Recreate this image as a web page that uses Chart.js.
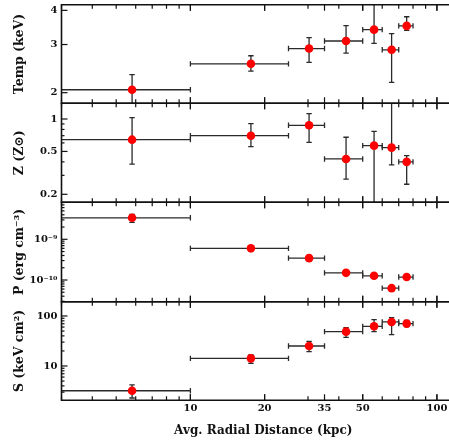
<!DOCTYPE html>
<html>
<head>
<meta charset="utf-8">
<script src="https://cdn.jsdelivr.net/npm/chart.js@4.4.1/dist/chart.umd.min.js"></script>
<style>
  html, body { margin: 0; padding: 0; background: #fff; width: 449px; height: 443px; overflow: hidden; }
  canvas { position: absolute; left: 0; top: 0; }
</style>
</head>
<body>
<canvas id="pT" width="470" height="443"></canvas>
<canvas id="pZ" width="470" height="443"></canvas>
<canvas id="pP" width="470" height="443"></canvas>
<canvas id="pS" width="470" height="443"></canvas>
<script>
// radial bins (kpc)
const radius = [5.8, 17.6, 30.3, 42.8, 55.6, 65.5, 75.4];
const binLo = [1, 10, 25, 35, 50, 60, 70];
const binHi = [10, 25, 35, 50, 60, 70, 80];

// temperature (keV)
const temp = [2.05, 2.55, 2.90, 3.09, 3.40, 2.87, 3.51];
const tempLo = [1.78, 2.40, 2.58, 2.79, 3.03, 2.18, 3.38];
const tempHi = [2.33, 2.73, 3.18, 3.52, 4.50, 3.29, 3.79];

// abundance (Z_sun)
const abund = [0.643, 0.70, 0.874, 0.426, 0.566, 0.542, 0.40];
const abundLo = [0.381, 0.554, 0.608, 0.277, 0.10, 0.375, 0.248];
const abundHi = [1.03, 0.905, 1.12, 0.677, 0.769, 1.60, 0.457];

// pressure (erg cm^-3)
const press = [3.37e-9, 6.0e-10, 3.44e-10, 1.5e-10, 1.27e-10, 6.3e-11, 1.18e-10];
const pressLo = [2.6e-9, 5.7e-10, 3.25e-10, 1.42e-10, 1.15e-10, 5.4e-11, 1.08e-10];
const pressHi = [4.1e-9, 6.3e-10, 3.6e-10, 1.58e-10, 1.38e-10, 7.0e-11, 1.28e-10];

// entropy (keV cm^2)
const entropy = [3.2, 14.2, 25.1, 48.6, 62.1, 75.9, 70.2];
const entropyLo = [2.29, 11.3, 19.3, 37.4, 48.6, 42.3, 61.2];
const entropyHi = [4.2, 16.6, 31.1, 58.4, 84.5, 92.6, 81.9];

// tick labels
const xTicks = [10, 20, 35, 50, 100];
const tempTicks = [2, 3, 4];
const abundTicks = [0.2, 0.5, 1];
const pressTicks = [1e-10, 1e-9];
const pressTickLabels = ['10⁻¹⁰', '10⁻⁹'];
const entropyTicks = [10, 100];

const FONT = 'DejaVu Serif';
const INK = '#111';

const panels = [
  { id: 'pT', title: 'Temp (keV)', y: temp, lo: tempLo, hi: tempHi, min: 1.829, max: 4.195,
    ticks: tempTicks, labels: tempTicks.map(String), top: 4.7, bottom: 103.3 },
  { id: 'pZ', title: 'Z (Z⊙)', y: abund, lo: abundLo, hi: abundHi, min: 0.1686, max: 1.399,
    ticks: abundTicks, labels: abundTicks.map(String), top: 103.3, bottom: 202.3 },
  { id: 'pP', title: 'P (erg cm⁻³)', y: press, lo: pressLo, hi: pressHi, min: 2.93e-11, max: 8.11e-9,
    ticks: pressTicks, labels: pressTickLabels, top: 202.3, bottom: 301.7 },
  { id: 'pS', title: 'S (keV cm²)', y: entropy, lo: entropyLo, hi: entropyHi, min: 2.06, max: 193,
    ticks: entropyTicks, labels: entropyTicks.map(String), top: 301.7, bottom: 400.3, last: true }
];

// k * 10^n values inside [min, max]
function logMinor(min, max) {
  const out = [];
  for (let n = Math.floor(Math.log10(min)) - 1; n <= Math.ceil(Math.log10(max)); n++) {
    for (let k = 1; k <= 9; k++) {
      const v = k * Math.pow(10, n);
      if (v >= min && v <= max) out.push(v);
    }
  }
  return out;
}

function errorBars(p) {
  return {
    id: 'errbars_' + p.id,
    beforeDatasetsDraw(chart) {
      const { ctx, chartArea: a, scales: { x, y } } = chart;
      const cap = 2.7;
      ctx.save();
      ctx.beginPath();
      ctx.rect(a.left, a.top, a.right - a.left, a.bottom - a.top);
      ctx.clip();
      ctx.strokeStyle = '#2a2a2a';
      ctx.lineWidth = 1.3;
      radius.forEach((r, i) => {
        const px = x.getPixelForValue(r);
        const py = y.getPixelForValue(p.y[i]);
        const x0 = x.getPixelForValue(binLo[i]);
        const x1 = x.getPixelForValue(binHi[i]);
        const y0 = y.getPixelForValue(p.lo[i]);
        const y1 = y.getPixelForValue(p.hi[i]);
        ctx.beginPath();
        ctx.moveTo(x0, py); ctx.lineTo(x1, py);
        ctx.moveTo(x0, py - cap); ctx.lineTo(x0, py + cap);
        ctx.moveTo(x1, py - cap); ctx.lineTo(x1, py + cap);
        ctx.moveTo(px, y0); ctx.lineTo(px, y1);
        ctx.moveTo(px - cap, y0); ctx.lineTo(px + cap, y0);
        ctx.moveTo(px - cap, y1); ctx.lineTo(px + cap, y1);
        ctx.stroke();
      });
      ctx.restore();
    },
    afterDraw(chart) {
      const { ctx, chartArea: a, scales: { x, y } } = chart;
      ctx.save();
      ctx.strokeStyle = INK;
      ctx.lineWidth = 1.2;
      // inward x ticks on top and bottom edges
      logMinor(x.min, x.max).concat(xTicks).forEach(v => {
        const px = x.getPixelForValue(v);
        const len = xTicks.includes(v) ? 6 : 4;
        ctx.beginPath();
        ctx.moveTo(px, a.top); ctx.lineTo(px, a.top + len);
        ctx.moveTo(px, a.bottom); ctx.lineTo(px, a.bottom - len);
        ctx.stroke();
      });
      // inward y ticks on the left edge
      logMinor(y.min, y.max).forEach(v => {
        const py = y.getPixelForValue(v);
        const major = p.ticks.some(t => Math.abs(t - v) / t < 1e-6);
        ctx.beginPath();
        ctx.moveTo(a.left, py); ctx.lineTo(a.left + (major ? 6 : 3), py);
        ctx.stroke();
      });
      // frame
      ctx.lineWidth = 1.6;
      ctx.beginPath();
      ctx.moveTo(a.right, a.top); ctx.lineTo(a.left, a.top);
      ctx.lineTo(a.left, a.bottom); ctx.lineTo(a.right, a.bottom);
      ctx.stroke();
      ctx.restore();
    }
  };
}

panels.forEach(p => {
  const xAxisH = p.last ? 40 : 0;
  new Chart(document.getElementById(p.id), {
    type: 'scatter',
    data: {
      datasets: [{
        data: radius.map((r, i) => ({ x: r, y: p.y[i] })),
        backgroundColor: '#ff0000',
        borderWidth: 0,
        pointRadius: 4.3,
        pointHoverRadius: 4.3
      }]
    },
    options: {
      responsive: false,
      animation: false,
      events: [],
      layout: {
        padding: { left: 0, right: 5, top: p.top, bottom: 443 - p.bottom - xAxisH }
      },
      plugins: { legend: { display: false }, tooltip: { enabled: false } },
      scales: {
        x: {
          type: 'logarithmic',
          min: 3,
          max: 130,
          display: !!p.last,
          grid: { display: false, drawTicks: false },
          border: { display: false },
          ticks: {
            color: INK,
            padding: 2,
            maxRotation: 0,
            autoSkip: false,
            font: { family: FONT, weight: 'bold', size: 10 },
            callback: v => String(v)
          },
          afterBuildTicks: s => { s.ticks = xTicks.map(v => ({ value: v })); },
          afterFit: s => { s.height = xAxisH; s.paddingLeft = 0; s.paddingRight = 0; },
          title: {
            display: true,
            text: 'Avg. Radial Distance (kpc)',
            color: INK,
            padding: { top: 0, bottom: 2 },
            font: { family: FONT, weight: 'bold', size: 12 }
          }
        },
        y: {
          type: 'logarithmic',
          min: p.min,
          max: p.max,
          grid: { display: false, drawTicks: false },
          border: { display: false },
          ticks: {
            color: INK,
            padding: 4,
            autoSkip: false,
            font: { family: FONT, weight: 'bold', size: 10 },
            callback: (v, i) => p.labels[i]
          },
          afterBuildTicks: s => { s.ticks = p.ticks.map(v => ({ value: v })); },
          afterFit: s => { s.width = 61.5; s.paddingTop = 0; s.paddingBottom = 0; },
          title: {
            display: true,
            text: p.title,
            color: INK,
            padding: { top: 12.5, bottom: 0 },
            font: { family: FONT, weight: 'bold', size: 12.5 }
          }
        }
      }
    },
    plugins: [errorBars(p)]
  });
});
</script>
</body>
</html>
